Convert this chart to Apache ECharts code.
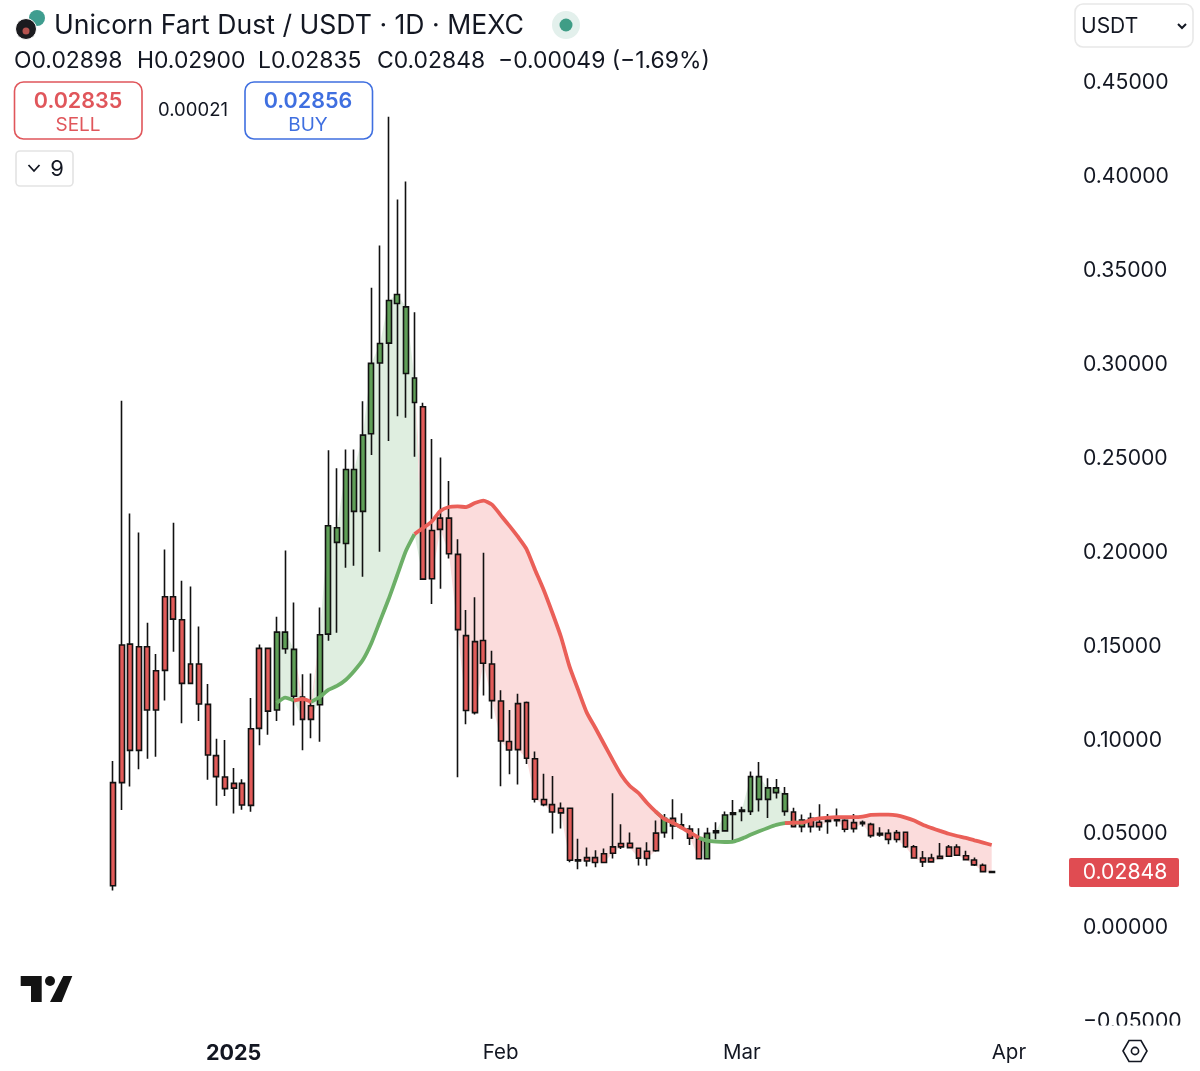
<!DOCTYPE html>
<html>
<head>
<meta charset="utf-8">
<title>Unicorn Fart Dust / USDT</title>
<script src="https://cdn.jsdelivr.net/npm/echarts@6/dist/echarts.min.js"></script>
<style>
  html, body { margin: 0; padding: 0; background: #fff; }
  #chart { width: 1200px; height: 1071px; }
</style>
</head>
<body>
<div id="chart"></div>
<script>
// daily candles, 2024-12-18 to 2025-03-30..
// red candles: open = body top, green candles: open = body bottom
const candleDates = [
  '2024-12-18','2024-12-19','2024-12-20','2024-12-21','2024-12-22','2024-12-23','2024-12-24','2024-12-25','2024-12-26','2024-12-27','2024-12-28','2024-12-29','2024-12-30','2024-12-31',
  '2025-01-01','2025-01-02','2025-01-03','2025-01-04','2025-01-05','2025-01-06','2025-01-07','2025-01-08','2025-01-09','2025-01-10','2025-01-11','2025-01-12','2025-01-13','2025-01-14','2025-01-15','2025-01-16','2025-01-17','2025-01-18','2025-01-19','2025-01-20','2025-01-21','2025-01-22','2025-01-23','2025-01-24','2025-01-25','2025-01-26','2025-01-27','2025-01-28','2025-01-29','2025-01-30','2025-01-31',
  '2025-02-01','2025-02-02','2025-02-03','2025-02-04','2025-02-05','2025-02-06','2025-02-07','2025-02-08','2025-02-09','2025-02-10','2025-02-11','2025-02-12','2025-02-13','2025-02-14','2025-02-15','2025-02-16','2025-02-17','2025-02-18','2025-02-19','2025-02-20','2025-02-21','2025-02-22','2025-02-23','2025-02-24','2025-02-25','2025-02-26','2025-02-27','2025-02-28',
  '2025-03-01','2025-03-02','2025-03-03','2025-03-04','2025-03-05','2025-03-06','2025-03-07','2025-03-08','2025-03-09','2025-03-10','2025-03-11','2025-03-12','2025-03-13','2025-03-14','2025-03-15','2025-03-16','2025-03-17','2025-03-18','2025-03-19','2025-03-20','2025-03-21','2025-03-22','2025-03-23','2025-03-24','2025-03-25','2025-03-26','2025-03-27','2025-03-28','2025-03-29','2025-03-30'
];
const opens = [.0763,.1496,.1501,.1487,.1487,.1359,.1753,.1753,.1631,.1395,.1395,.1180,.0907,.0793,.0759,.0759,.1050,.1478,.1478,.1150,.1476,.1223,.1219,.1173,.1178,.1554,.2043,.2037,.2208,.2208,.2621,.2998,.3104,.3315,.2942,.2788,.2765,.2106,.2172,.2172,.1979,.1546,.1514,.1520,.1395,.1198,.0982,.1184,.1190,.0890,.0673,.0646,.0627,.0627,.0352,.0364,.0364,.0384,.0421,.0439,.0440,.0414,.0398,.0494,.0497,.0573,.0538,.0516,.0465,.0358,.0497,.0506,.0594,.0610,.0610,.0674,.0674,.0710,.0610,.0607,.0529,.0573,.0552,.0564,.0568,.0562,.0550,.0552,.0541,.0493,.0493,.0497,.0499,.0422,.0362,.0362,.0371,.0420,.0420,.0374,.0351,.0323,.02898];
const closes = [.0214,.0763,.0935,.0935,.1150,.1150,.1361,.1634,.1292,.1292,.1182,.0910,.0795,.0731,.0734,.0644,.0642,.1052,.1144,.1565,.1565,.1473,.1100,.1100,.1551,.2131,.2121,.2431,.2431,.2614,.2996,.3102,.3331,.3363,.3297,.2918,.1847,.1849,.2112,.1982,.1578,.1147,.1136,.1399,.1200,.0985,.0937,.0939,.0893,.0675,.0646,.0607,.0602,.0350,.0346,.0346,.0338,.0338,.0387,.0421,.0417,.0361,.0359,.0400,.0573,.0532,.0529,.0467,.0358,.0493,.0506,.0591,.0603,.0617,.0795,.0795,.0735,.0735,.0703,.0529,.0564,.0529,.0529,.0557,.0561,.0515,.0518,.0545,.0481,.0484,.0461,.0460,.0422,.0362,.0341,.0341,.0360,.0371,.0376,.0353,.0325,.0289,.02848];
const lows = [.0188,.0617,.0742,.0834,.0891,.0901,.1201,.1460,.1079,.1292,.1091,.0779,.0640,.0692,.0599,.0619,.0608,.0962,.1018,.1091,.1450,.1068,.0935,.0999,.0981,.1519,.1562,.1908,.1918,.1860,.2508,.1993,.2582,.2715,.2706,.2499,.1847,.1715,.1796,.1957,.0792,.1074,.1126,.1227,.1103,.0744,.0808,.0753,.0863,.0657,.0638,.0492,.0519,.0339,.0302,.0316,.0313,.0338,.0359,.0410,.0414,.0322,.0320,.0395,.0470,.0461,.0515,.0431,.0358,.0358,.0461,.0506,.0458,.0557,.0591,.0610,.0575,.0678,.0587,.0529,.0499,.0497,.0507,.0491,.0529,.0499,.0497,.0529,.0470,.0475,.0435,.0444,.0415,.0362,.0314,.0339,.0360,.0371,.0376,.0348,.0319,.0284,.02835];
const highs = [.0878,.2797,.2197,.2096,.1615,.1448,.2005,.2147,.1838,.1808,.1595,.1288,.0997,.0990,.0841,.0781,.1214,.1499,.1478,.1647,.2000,.1723,.1341,.1345,.1696,.2534,.2437,.2538,.2538,.2795,.3399,.3624,.4309,.3869,.3965,.3269,.2786,.2593,.2495,.2369,.2060,.1683,.1750,.1987,.1466,.1255,.1150,.1237,.1195,.0929,.0810,.0799,.0657,.0627,.0464,.0417,.0403,.0412,.0707,.0542,.0497,.0416,.0446,.0561,.0596,.0674,.0600,.0536,.0520,.0523,.0552,.0610,.0671,.0635,.0823,.0873,.0786,.0783,.0740,.0630,.0593,.0603,.0648,.0596,.0625,.0568,.0596,.0561,.0550,.0525,.0515,.0511,.0499,.0431,.0399,.0385,.0442,.0431,.0435,.0401,.0364,.0333,.02900];

// the smoothed average starts on candle 19
const maStart = 19;
const maValues = [.1187,.1216,.1200,.1209,.1193,.1219,.1257,.1278,.1310,.1358,.1416,.1507,.1624,.1741,.1869,.1997,.2087,.2119,.2154,.2210,.2231,.2234,.2231,.2252,.2265,.2244,.2188,.2132,.2073,.2007,.1896,.1789,.1668,.1540,.1381,.1257,.1136,.1054,.0969,.0884,.0804,.0745,.0708,.0655,.0609,.0570,.0550,.0523,.0497,.0469,.0454,.0449,.0447,.0449,.0465,.0485,.0504,.0522,.0538,.0547,.0550,.0550,.0564,.0573,.0577,.0579,.0579,.0579,.0582,.0591,.0593,.0593,.0589,.0577,.0561,.0539,.0522,.0506,.0491,.0479,.0469,.0456,.0444,.0431];

const paddingBefore = ['2024-12-06','2024-12-07','2024-12-08','2024-12-09','2024-12-10','2024-12-11','2024-12-12','2024-12-13','2024-12-14','2024-12-15','2024-12-16','2024-12-17'];
const paddingAfter = ['2025-03-31','2025-04-01','2025-04-02','2025-04-03','2025-04-04','2025-04-05','2025-04-06','2025-04-07'];
const categories = paddingBefore.concat(candleDates, paddingAfter);
const tickDates = ['2025-01-01', '2025-02-01', '2025-03-01', '2025-04-01'];
const tickNames = ['{y|2025}', 'Feb', 'Mar', 'Apr'];
const lastClose = closes[closes.length - 1];

const RED = '#e25b59', GREEN = '#5f9f57', INK = '#131722', WICK = '#111111';
const FONT = 'Inter, "Noto Sans", sans-serif';

const padLeft = paddingBefore.map(() => '-');
const padRight = paddingAfter.map(() => '-');
const pad = arr => padLeft.concat(arr, padRight);

const candleData = categories.map((d, i) => {
  const k = i - paddingBefore.length;
  return k >= 0 && k < opens.length ? [opens[k], closes[k], lows[k], highs[k]] : ['-', '-', '-', '-'];
});

// fill between the average and the close, stacked on the lower of the two
const ma = candleDates.map((d, i) => (i < maStart ? '-' : maValues[i - maStart]));
const above = ma.map((v, i) => v !== '-' && closes[i] >= v);
const fillBase = ma.map((v, i) => (v === '-' ? '-' : Math.min(v, closes[i])));
const fillUp = ma.map((v, i) => (v === '-' ? '-' : above[i] ? closes[i] - v : 0));
const fillDown = ma.map((v, i) => (v === '-' ? '-' : above[i] ? 0 : v - closes[i]));
// a segment takes the colour of the candle it ends on
const maGreen = ma.map((v, i) => (above[i] || above[i + 1] ? v : '-'));
const maRed = ma.map((v, i) => (v !== '-' && (!above[i] || (i + 1 < ma.length && !above[i + 1])) ? v : '-'));

const chart = echarts.init(document.getElementById('chart'));
chart.setOption({
  animation: false,
  backgroundColor: '#fff',
  textStyle: { fontFamily: FONT },
  grid: { left: 5.3, width: 1059.6, top: 81, height: 938.8 },
  xAxis: {
    type: 'category',
    data: categories,
    axisLine: { show: false },
    axisTick: { show: false },
    splitLine: { show: false },
    axisLabel: {
      margin: 23,
      color: INK,
      fontSize: 20.5,
      fontFamily: FONT,
      interval: (i, v) => tickDates.includes(v),
      formatter: v => tickNames[tickDates.indexOf(v)] || '',
      rich: { y: { fontWeight: 'bold', fontSize: 21.5, color: INK, fontFamily: FONT } }
    }
  },
  yAxis: {
    type: 'value',
    position: 'right',
    min: -0.05,
    max: 0.45,
    interval: 0.05,
    scale: false,
    axisLine: { show: false },
    axisTick: { show: false },
    splitLine: { show: false },
    axisLabel: {
      margin: 18,
      color: INK,
      fontFamily: FONT,
      formatter: v => '{p|' + v.toFixed(5).replace('-', '−') + '}',
      // rich padding is what moves the text down onto the tick
      rich: { p: { fontSize: 21.2, color: INK, fontFamily: FONT, padding: [4, 0, 0, 0] } }
    }
  },
  series: [
    { name: 'base', type: 'line', stack: 'fill', data: pad(fillBase), symbol: 'none', silent: true, lineStyle: { width: 0 }, z: 1 },
    { name: 'above', type: 'line', stack: 'fill', data: pad(fillUp), symbol: 'none', silent: true, lineStyle: { width: 0 }, areaStyle: { color: '#dfeee0', opacity: 1 }, z: 1 },
    { name: 'below', type: 'line', stack: 'fill', data: pad(fillDown), symbol: 'none', silent: true, lineStyle: { width: 0 }, areaStyle: { color: '#fbdcdc', opacity: 1 }, z: 1 },
    {
      name: 'price',
      type: 'candlestick',
      data: candleData,
      barWidth: 5.4,
      z: 2,
      itemStyle: {
        color: GREEN,
        color0: RED,
        borderColor: WICK,
        borderColor0: WICK,
        borderColorDoji: WICK,
        borderWidth: 1.6
      }
    },
    { name: 'ma up', type: 'line', data: pad(maGreen), symbol: 'none', smooth: 0.2, z: 3, lineStyle: { color: '#6caf67', width: 3.8 } },
    { name: 'ma down', type: 'line', data: pad(maRed), symbol: 'none', smooth: 0.2, z: 3, lineStyle: { color: '#ea5f58', width: 3.8 } }
  ]
});

const label = (x, y, text, size, color, align, weight) => ({
  type: 'text',
  z: 200,
  style: { x, y: y + 1.3, text, fontSize: size, fill: color || INK, align: align || 'left', verticalAlign: 'middle', fontFamily: FONT, fontWeight: weight || 'normal' }
});
const box = (x, y, w, h, r, stroke, fill) => ({
  type: 'rect',
  z: 199,
  shape: { x, y, width: w, height: h, r },
  style: { fill: fill || '#fff', stroke: stroke, lineWidth: stroke ? 1.6 : 0 }
});
const chevron = (x, y, w, h, lw) => ({
  type: 'polyline',
  z: 200,
  shape: { points: [[x - w, y - h], [x, y + h], [x + w, y - h]] },
  style: { stroke: INK, lineWidth: lw, fill: null }
});

const tagY = chart.convertToPixel({ yAxisIndex: 0 }, lastClose);

chart.setOption({
  graphic: {
    elements: [
      // symbol icon and market status
      { type: 'circle', z: 200, shape: { cx: 37, cy: 18, r: 8 }, style: { fill: '#3f9d8f' } },
      { type: 'circle', z: 201, shape: { cx: 26, cy: 29, r: 10.5 }, style: { fill: '#1b1b1f', stroke: '#fff', lineWidth: 1 } },
      { type: 'circle', z: 202, shape: { cx: 26, cy: 31, r: 3.5 }, style: { fill: '#b5524e' } },
      label(54, 25, 'Unicorn Fart Dust / USDT · 1D · MEXC', 26.6),
      { type: 'circle', z: 200, shape: { cx: 566, cy: 25, r: 14 }, style: { fill: '#e3f0ec' } },
      { type: 'circle', z: 201, shape: { cx: 566, cy: 25, r: 6.5 }, style: { fill: '#3f9d86' } },

      // OHLC row
      label(14, 60, 'O0.02898', 22.9),
      label(137, 60, 'H0.02900', 22.9),
      label(258, 60, 'L0.02835', 22.9),
      label(377, 60, 'C0.02848', 22.9),
      label(498, 60, '−0.00049 (−1.69%)', 22.9),

      // trade buttons
      box(14.5, 82, 127.5, 57, 9, '#e0565b'),
      label(78, 100, '0.02835', 21.5, '#e0565b', 'center', 600),
      label(78, 124, 'SELL', 19, '#e0565b', 'center'),
      label(193, 109, '0.00021', 18.5, INK, 'center'),
      box(245, 82, 127.5, 57, 9, '#3f6fe0'),
      label(308, 100, '0.02856', 21.5, '#3f6fe0', 'center', 600),
      label(308, 124, 'BUY', 19, '#3f6fe0', 'center'),

      // collapsed indicators
      box(16, 151, 57, 35, 4, '#e3e3e3'),
      chevron(34, 168, 5.5, 3, 1.8),
      label(57, 168, '9', 22, INK, 'center'),

      // currency selector
      box(1075, 4, 118, 43, 8, '#e8e8e8'),
      label(1081, 25, 'USDT', 21),
      chevron(1182, 26, 4, 2, 2),

      // last price tag follows the y axis
      box(1069, tagY - 14.5, 110, 29, 2, null, '#e04c52'),
      label(1125, tagY - 1, lastClose.toFixed(5), 21.2, '#fff', 'center'),

      // the bottom axis label is cut off by the time scale pane
      { type: 'rect', z: 190, shape: { x: 1070, y: 1025.5, width: 125, height: 14 }, style: { fill: '#fff' } },

      // TradingView logo
      { type: 'polygon', z: 200, shape: { points: [[20.7, 976], [41.7, 976], [41.7, 1002], [31, 1002], [31, 986], [20.7, 986]] }, style: { fill: '#131313' } },
      { type: 'circle', z: 200, shape: { cx: 50, cy: 981, r: 5 }, style: { fill: '#131313' } },
      { type: 'polygon', z: 200, shape: { points: [[63.3, 976], [72.3, 976], [61.7, 1002], [50, 1002]] }, style: { fill: '#131313' } },

      // settings hexagon
      { type: 'polygon', z: 200, shape: { points: [[1123, 1051], [1129, 1040.5], [1141, 1040.5], [1147, 1051], [1141, 1061.5], [1129, 1061.5]] }, style: { fill: null, stroke: INK, lineWidth: 1.6 } },
      { type: 'circle', z: 200, shape: { cx: 1135, cy: 1051, r: 3.6 }, style: { fill: null, stroke: INK, lineWidth: 1.6 } }
    ]
  }
});
</script>
</body>
</html>
